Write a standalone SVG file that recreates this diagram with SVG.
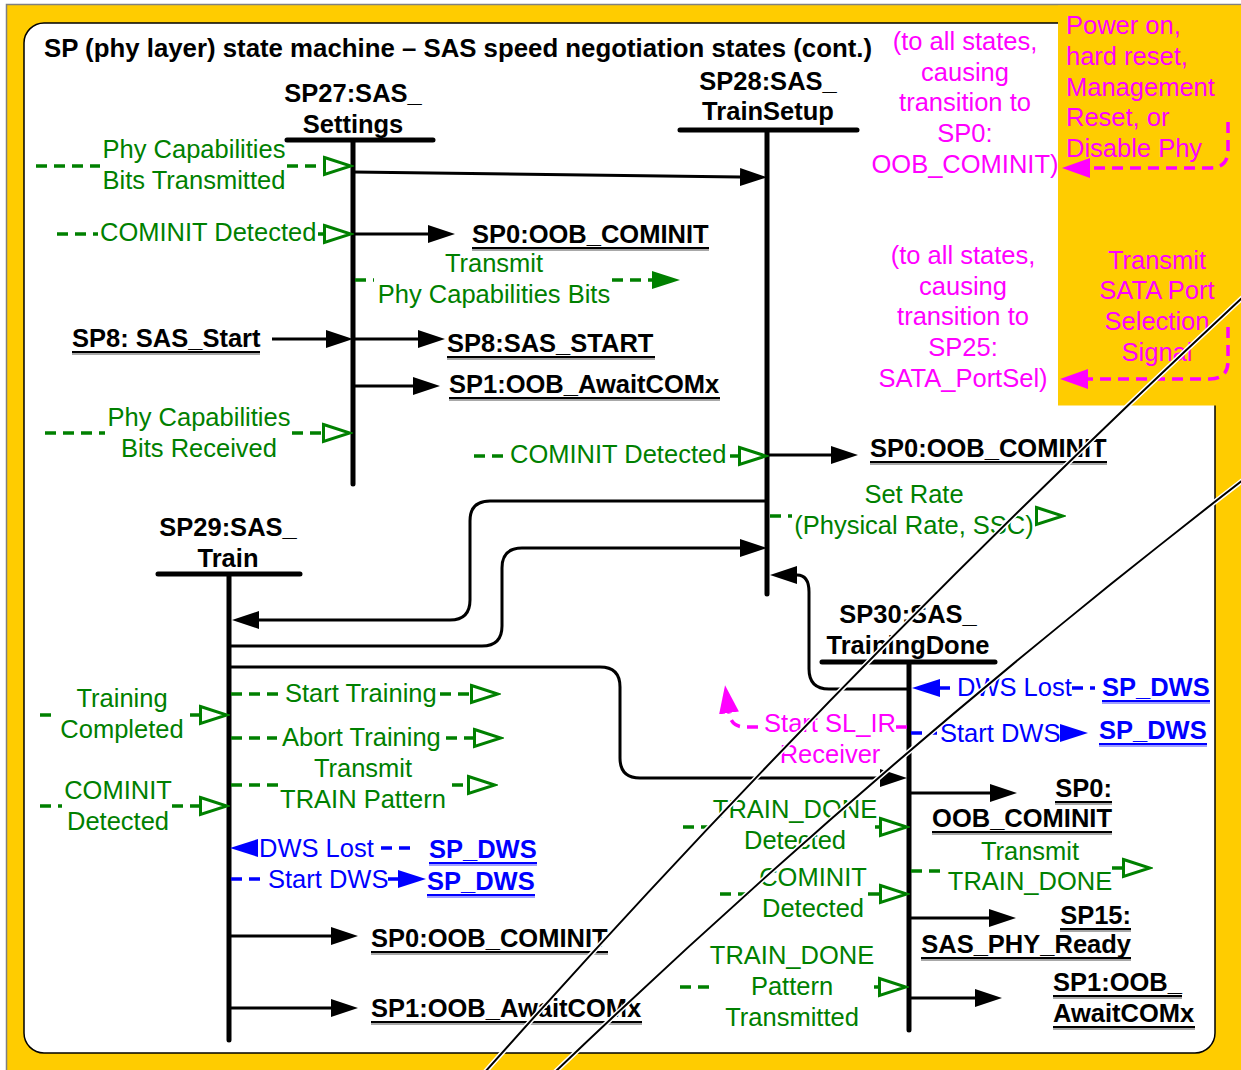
<svg xmlns="http://www.w3.org/2000/svg" width="1241" height="1070" viewBox="0 0 1241 1070">
<style>
text{font-family:"Liberation Sans",Arial,sans-serif;font-size:25.5px}
.h{font-weight:bold;fill:#000}
.u{font-weight:bold;fill:#000}
.ub{font-weight:bold;fill:#0000ff}
.g{fill:#008000}
.m{fill:#ff00ff}
.b{fill:#0000ff}
.c{text-anchor:middle}
.e{text-anchor:end}
.bar{stroke:#000;stroke-width:5;stroke-linecap:round;fill:none}
.ln{stroke:#000;stroke-width:3;fill:none}
.gd{stroke:#008000;stroke-width:3.5;stroke-dasharray:11 7;fill:none}
.bd{stroke:#0000ff;stroke-width:3.5;stroke-dasharray:11 7;fill:none}
.md{stroke:#ff00ff;stroke-width:3.5;stroke-dasharray:11 7;fill:none}
.nn{stroke:none;fill:none}
.ulk{stroke:#000;stroke-width:2;fill:none}
.ulk2{stroke:#8c8c8c;stroke-width:1.5;fill:none}
.ulb{stroke:#0000ff;stroke-width:2;fill:none}
.ulb2{stroke:#8080ff;stroke-width:1.5;fill:none}
.tw{stroke:#fff;stroke-width:5;fill:none}
.tk{stroke:#000;stroke-width:2;fill:none}
</style>
<defs>
<marker id="ak" markerUnits="userSpaceOnUse" viewBox="0 -10 28 20" refX="0" refY="0" markerWidth="28" markerHeight="20" orient="auto"><path d="M0,-9 L27,0 L0,9 z" fill="#000"/></marker>
<marker id="og" markerUnits="userSpaceOnUse" viewBox="-1 -11 32 22" refX="0" refY="0" markerWidth="32" markerHeight="22" orient="auto"><path d="M1.5,-8.5 L28,0 L1.5,8.5 z" fill="none" stroke="#008000" stroke-width="3"/></marker>
<marker id="fg" markerUnits="userSpaceOnUse" viewBox="0 -10 28 20" refX="0" refY="0" markerWidth="28" markerHeight="20" orient="auto"><path d="M0,-9 L28,0 L0,9 z" fill="#008000"/></marker>
<marker id="ab" markerUnits="userSpaceOnUse" viewBox="0 -10 28 20" refX="0" refY="0" markerWidth="28" markerHeight="20" orient="auto"><path d="M0,-9 L28,0 L0,9 z" fill="#0000ff"/></marker>
<marker id="am" markerUnits="userSpaceOnUse" viewBox="0 -11 28 22" refX="0" refY="0" markerWidth="28" markerHeight="22" orient="auto"><path d="M0,-10 L28,0 L0,10 z" fill="#ff00ff"/></marker>
</defs>

<g id="background">
<rect x="0" y="0" width="1241" height="1070" fill="#fff"/>
<rect x="6.5" y="4.5" width="1240" height="1070" fill="#FFCC00" stroke="#808080" stroke-width="1.5"/>
<rect x="24" y="23" width="1191" height="1030" rx="20" fill="#fff" stroke="#000" stroke-width="1.5"/>
<rect x="1058" y="5.5" width="184" height="400" fill="#FFCC00"/>
<text class="h" x="44" y="57" textLength="828" lengthAdjust="spacingAndGlyphs">SP (phy layer) state machine – SAS speed negotiation states (cont.)</text>
</g>

<g id="SP27">
<path class="bar" d="M287,140 H433 M353,140 V484"/>
<text class="h c" x="353" y="102">SP27:SAS_</text>
<text class="h c" x="353" y="133">Settings</text>
</g>
<g id="SP28">
<path class="bar" d="M680,130 H857 M767,130 V594"/>
<text class="h c" x="768" y="90">SP28:SAS_</text>
<text class="h c" x="768" y="120">TrainSetup</text>
</g>
<g id="SP29">
<path class="bar" d="M158,574 H300 M229,574 V1040"/>
<text class="h c" x="228" y="536">SP29:SAS_</text>
<text class="h c" x="228" y="567">Train</text>
</g>
<g id="SP30">
<path class="bar" d="M822,662 H995 M909,662 V1030"/>
<text class="h c" x="908" y="623">SP30:SAS_</text>
<text class="h c" x="908" y="654">TrainingDone</text>
</g>

<g id="targets">
<text class="u" x="472" y="243">SP0:OOB_COMINIT</text>
<text class="u" x="72" y="347">SP8: SAS_Start</text>
<text class="u" x="447" y="352">SP8:SAS_START</text>
<text class="u" x="449" y="393">SP1:OOB_AwaitCOMx</text>
<text class="u" x="870" y="457">SP0:OOB_COMINIT</text>
<text class="u" x="371" y="947">SP0:OOB_COMINIT</text>
<text class="u" x="371" y="1017">SP1:OOB_AwaitCOMx</text>
<text class="u e" x="1112" y="797">SP0:</text>
<text class="u e" x="1112" y="827">OOB_COMINIT</text>
<text class="u e" x="1131" y="924">SP15:</text>
<text class="u e" x="1131" y="953">SAS_PHY_Ready</text>
<text class="u" x="1053" y="991">SP1:OOB_</text>
<text class="u" x="1053" y="1022">AwaitCOMx</text>
<text class="ub" x="429" y="858">SP_DWS</text>
<text class="ub" x="427" y="890">SP_DWS</text>
<text class="ub" x="1102" y="696">SP_DWS</text>
<text class="ub" x="1099" y="739">SP_DWS</text>
<path class="ulk" d="M472,248 H709 M72,352 H260 M447,357 H655 M449,398 H720 M870,462 H1107 M371,952 H608 M371,1022 H642 M1055,802 H1112 M932,832 H1112 M1060,929 H1131 M921,958 H1131 M1053,996 H1182 M1053,1027 H1195"/>
<path class="ulk2" d="M472,250 H709 M72,354 H260 M447,359 H655 M449,400 H720 M870,464 H1107 M371,954 H608 M371,1024 H642 M1055,804 H1112 M932,834 H1112 M1060,931 H1131 M921,960 H1131 M1053,998 H1182 M1053,1029 H1195"/>
<path class="ulb" d="M429,863 H537 M427,895 H535 M1102,701 H1210 M1099,744 H1207"/>
<path class="ulb2" d="M429,865 H537 M427,897 H535 M1102,703 H1210 M1099,746 H1207"/>
</g>

<g id="connectors">
<path class="ln" d="M353,172 L740,177" marker-end="url(#ak)"/>
<path class="ln" d="M353,234 H428" marker-end="url(#ak)"/>
<path class="ln" d="M272,339 H326" marker-end="url(#ak)"/>
<path class="ln" d="M353,339 H418" marker-end="url(#ak)"/>
<path class="ln" d="M353,386 H413" marker-end="url(#ak)"/>
<path class="ln" d="M767,455 H831" marker-end="url(#ak)"/>
<path class="ln" d="M767,501 H490 Q470,501 470,521 V600 Q470,620 450,620 H259" marker-end="url(#ak)"/>
<path class="ln" d="M229,646 H482 Q502,646 502,626 V568 Q502,548 522,548 H740" marker-end="url(#ak)"/>
<path class="ln" d="M229,667 H600 Q620,667 620,687 V758 Q620,778 640,778 H880" marker-end="url(#ak)"/>
<path class="ln" d="M909,689 H829 Q809,689 809,669 V592 Q809,575 797,575" marker-end="url(#ak)"/>
<path class="ln" d="M229,936 H331" marker-end="url(#ak)"/>
<path class="ln" d="M229,1008 H331" marker-end="url(#ak)"/>
<path class="ln" d="M909,793 H990" marker-end="url(#ak)"/>
<path class="ln" d="M909,918 H989" marker-end="url(#ak)"/>
<path class="ln" d="M909,998 H975" marker-end="url(#ak)"/>

<path class="gd" d="M36,166 H100"/><path class="gd" d="M287,166 H323" marker-end="url(#og)"/>
<path class="gd" d="M57,234 H98"/><path class="gd" d="M318,234 H323" marker-end="url(#og)"/>
<path class="gd" d="M355,280 H374"/><path class="gd" d="M612,280 H652" marker-end="url(#fg)"/>
<path class="gd" d="M45,433 H105"/><path class="gd" d="M292,433 H322" marker-end="url(#og)"/>
<path class="gd" d="M474,456 H506"/><path class="gd" d="M730,456 H738" marker-end="url(#og)"/>
<path class="gd" d="M770,516 H792"/><path class="nn" d="M1033,516 H1035" marker-end="url(#og)"/>
<path class="gd" d="M40,715 H58"/><path class="gd" d="M190,715 H199" marker-end="url(#og)"/>
<path class="gd" d="M231,694 H280"/><path class="gd" d="M440,694 H470" marker-end="url(#og)"/>
<path class="gd" d="M231,738 H277"/><path class="gd" d="M446,738 H473" marker-end="url(#og)"/>
<path class="gd" d="M231,785 H278"/><path class="gd" d="M452,785 H467" marker-end="url(#og)"/>
<path class="gd" d="M40,806 H62"/><path class="gd" d="M172,806 H199" marker-end="url(#og)"/>
<path class="gd" d="M683,827 H708"/><path class="gd" d="M875,827 H879" marker-end="url(#og)"/>
<path class="gd" d="M720,894 H752"/><path class="gd" d="M868,894 H879" marker-end="url(#og)"/>
<path class="gd" d="M911,871 H943"/><path class="gd" d="M1112,868 H1122" marker-end="url(#og)"/>
<path class="gd" d="M680,987 H710"/><path class="gd" d="M874,987 H878" marker-end="url(#og)"/>

<path class="bd" d="M410,848 H379"/><path class="nn" d="M262,848 H258" marker-end="url(#ab)"/>
<path class="bd" d="M231,879 H265"/><path class="bd" d="M388,879 H398" marker-end="url(#ab)"/>
<path class="bd" d="M950,688 H940" marker-end="url(#ab)"/><path class="bd" d="M1072,688 H1095"/>
<path class="bd" d="M911,733 H937"/><path class="nn" d="M1058,733 H1060" marker-end="url(#ab)"/>

<path class="md" d="M1228,122 V150 Q1228,168 1210,168 H1090" marker-end="url(#am)"/>
<path class="md" d="M1228,327 V361 Q1228,379 1210,379 H1088" marker-end="url(#am)"/>
<path class="md" d="M758,727 H745 Q731,727 729,713" marker-end="url(#am)"/>
<path class="md" d="M896,727 H908"/>
</g>

<g id="labels">
<text class="g c" x="194" y="158">Phy Capabilities</text>
<text class="g c" x="194" y="189">Bits Transmitted</text>
<text class="g" x="100" y="241">COMINIT Detected</text>
<text class="g c" x="494" y="272">Transmit</text>
<text class="g c" x="494" y="303">Phy Capabilities Bits</text>
<text class="g c" x="199" y="426">Phy Capabilities</text>
<text class="g c" x="199" y="457">Bits Received</text>
<text class="g" x="510" y="463">COMINIT Detected</text>
<text class="g c" x="914" y="503">Set Rate</text>
<text class="g c" x="914" y="534">(Physical Rate, SSC)</text>
<text class="g c" x="122" y="707">Training</text>
<text class="g c" x="122" y="738">Completed</text>
<text class="g" x="285" y="702">Start Training</text>
<text class="g" x="282" y="746">Abort Training</text>
<text class="g c" x="363" y="777">Transmit</text>
<text class="g c" x="363" y="808">TRAIN Pattern</text>
<text class="g c" x="118" y="799">COMINIT</text>
<text class="g c" x="118" y="830">Detected</text>
<text class="g c" x="795" y="818">TRAIN_DONE</text>
<text class="g c" x="795" y="849">Detected</text>
<text class="g c" x="813" y="886">COMINIT</text>
<text class="g c" x="813" y="917">Detected</text>
<text class="g c" x="1030" y="860">Transmit</text>
<text class="g c" x="1030" y="890">TRAIN_DONE</text>
<text class="g c" x="792" y="964">TRAIN_DONE</text>
<text class="g c" x="792" y="995">Pattern</text>
<text class="g c" x="792" y="1026">Transmitted</text>

<text class="b" x="259" y="857">DWS Lost</text>
<text class="b" x="268" y="888">Start DWS</text>
<text class="b" x="957" y="696">DWS Lost</text>
<text class="b" x="940" y="742">Start DWS</text>

<text class="m c" x="830" y="732">Start SL_IR</text>
<text class="m c" x="830" y="763">Receiver</text>

<text class="m c" x="965" y="50">(to all states,</text>
<text class="m c" x="965" y="81">causing</text>
<text class="m c" x="965" y="111">transition to</text>
<text class="m c" x="965" y="142">SP0:</text>
<text class="m c" x="965" y="173">OOB_COMINIT)</text>
<text class="m" x="1066" y="34">Power on,</text>
<text class="m" x="1066" y="65">hard reset,</text>
<text class="m" x="1066" y="96">Management</text>
<text class="m" x="1066" y="126">Reset, or</text>
<text class="m" x="1066" y="157">Disable Phy</text>

<text class="m c" x="963" y="264">(to all states,</text>
<text class="m c" x="963" y="295">causing</text>
<text class="m c" x="963" y="325">transition to</text>
<text class="m c" x="963" y="356">SP25:</text>
<text class="m c" x="963" y="387">SATA_PortSel)</text>
<text class="m c" x="1157" y="269">Transmit</text>
<text class="m c" x="1157" y="299">SATA Port</text>
<text class="m c" x="1157" y="330">Selection</text>
<text class="m c" x="1157" y="361">Signal</text>
</g>

<g id="strokes">
<path class="tw" d="M1243,297 Q846,666 485,1072"/>
<path class="tk" d="M1243,297 Q846,666 485,1072"/>
<path class="tw" d="M1243,480 Q883,758 555,1072"/>
<path class="tk" d="M1243,480 Q883,758 555,1072"/>
</g>
</svg>
